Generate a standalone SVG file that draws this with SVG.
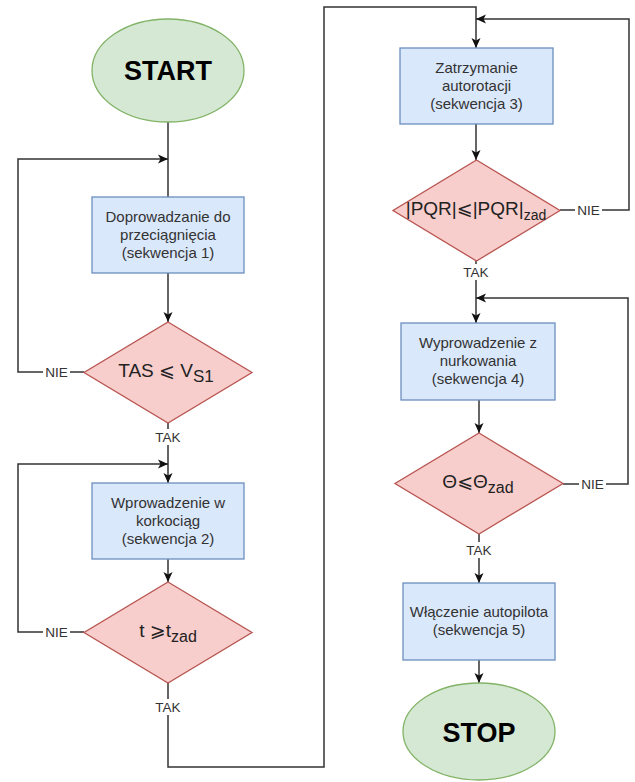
<svg xmlns="http://www.w3.org/2000/svg" width="635" height="782" viewBox="0 0 635 782">
<defs>
<style>
.term{fill:#d5e8d4;stroke:#82b366;stroke-width:1.3}
.proc{fill:#dae8fc;stroke:#6c8ebf;stroke-width:1.3}
.dec{fill:#f8cecc;stroke:#b85450;stroke-width:1.3}
.t{font-family:"Liberation Sans",Arial,"DejaVu Sans",sans-serif;text-anchor:middle}
.big{font-size:27px;font-weight:bold;fill:#000}
.box{font-size:15px;fill:#333}
.cond{font-size:19px;fill:#222}
.lbl{font-size:13.5px;fill:#333}
.edge{fill:none;stroke:#333;stroke-width:1.5}
.bg{fill:#fff}
</style>
<marker id="arr" markerUnits="userSpaceOnUse" markerWidth="12" markerHeight="12" viewBox="0 0 12 12" refX="11" refY="6" orient="auto">
<path d="M1,1.5 L11,6 L1,10.5 L3.5,6 Z" fill="#111"/>
</marker>
</defs>
<g id="connectors">
<path class="edge" d="M168,122 L168,197"/>
<path class="edge" d="M168,273 L168,322" marker-end="url(#arr)"/>
<path class="edge" d="M84,372 L18,372 L18,159 L168,159" marker-end="url(#arr)"/>
<path class="edge" d="M168,423 L168,483" marker-end="url(#arr)"/>
<path class="edge" d="M168,559 L168,582" marker-end="url(#arr)"/>
<path class="edge" d="M84,632 L18,632 L18,464 L168,464" marker-end="url(#arr)"/>
<path class="edge" d="M168,683 L168,767 L324,767 L324,7 L476,7 L476,48" marker-end="url(#arr)"/>
<path class="edge" d="M476,124 L476,160" marker-end="url(#arr)"/>
<path class="edge" d="M560,210 L629,210 L629,19 L476,19" marker-end="url(#arr)"/>
<path class="edge" d="M476,261 L476,323" marker-end="url(#arr)"/>
<path class="edge" d="M479,400 L479,433" marker-end="url(#arr)"/>
<path class="edge" d="M563,484 L628,484 L628,298 L476,298" marker-end="url(#arr)"/>
<path class="edge" d="M479,534 L479,583" marker-end="url(#arr)"/>
<path class="edge" d="M479,660 L479,683" marker-end="url(#arr)"/>
<rect class="bg" x="43" y="364" width="27" height="16"/>
<text class="t lbl" x="56.5" y="377">NIE</text>
<rect class="bg" x="154" y="429" width="28" height="16"/>
<text class="t lbl" x="168" y="442">TAK</text>
<rect class="bg" x="43" y="624" width="27" height="16"/>
<text class="t lbl" x="56.5" y="637">NIE</text>
<rect class="bg" x="154" y="699" width="28" height="16"/>
<text class="t lbl" x="168" y="712">TAK</text>
<rect class="bg" x="575" y="202" width="27" height="16"/>
<text class="t lbl" x="588.5" y="215">NIE</text>
<rect class="bg" x="462" y="264" width="28" height="16"/>
<text class="t lbl" x="476" y="277">TAK</text>
<rect class="bg" x="579" y="476" width="27" height="16"/>
<text class="t lbl" x="592.5" y="489">NIE</text>
<rect class="bg" x="465" y="542" width="28" height="16"/>
<text class="t lbl" x="479" y="555">TAK</text>
</g>
<g id="start">
<ellipse class="term" cx="168" cy="70.5" rx="76" ry="51.5"/>
<text class="t big" x="168" y="79.5">START</text>
</g>
<g id="seq1">
<rect class="proc" x="92" y="197" width="152" height="76"/>
<text class="t box" x="168" y="222">Doprowadzanie do</text>
<text class="t box" x="168" y="240">przeciągnięcia</text>
<text class="t box" x="168" y="258">(sekwencja 1)</text>
</g>
<g id="cond1">
<polygon class="dec" points="168,322 252,372.5 168,423 84,372.5"/>
<text class="t cond" x="166" y="377">TAS ⩽ V<tspan font-size="17" dy="5">S1</tspan></text>
</g>
<g id="seq2">
<rect class="proc" x="92" y="483" width="152" height="76"/>
<text class="t box" x="168" y="508">Wprowadzenie w</text>
<text class="t box" x="168" y="526">korkociąg</text>
<text class="t box" x="168" y="544">(sekwencja 2)</text>
</g>
<g id="cond2">
<polygon class="dec" points="168,582 252,632.5 168,683 84,632.5"/>
<text class="t cond" x="168" y="637">t ⩾t<tspan font-size="16" dy="5">zad</tspan></text>
</g>
<g id="seq3">
<rect class="proc" x="400" y="48" width="153" height="76"/>
<text class="t box" x="476.5" y="73">Zatrzymanie</text>
<text class="t box" x="476.5" y="91">autorotacji</text>
<text class="t box" x="476.5" y="109">(sekwencja 3)</text>
</g>
<g id="cond3">
<polygon class="dec" points="476.5,160 560,210.5 476.5,261 393,210.5"/>
<text class="t cond" x="476" y="215" font-size="17">|PQR|⩽|PQR|<tspan font-size="14" dy="5">zad</tspan></text>
</g>
<g id="seq4">
<rect class="proc" x="401" y="323" width="154" height="77"/>
<text class="t box" x="478" y="348">Wyprowadzenie z</text>
<text class="t box" x="478" y="366">nurkowania</text>
<text class="t box" x="478" y="384">(sekwencja 4)</text>
</g>
<g id="cond4">
<polygon class="dec" points="479,433 563,483.5 479,534 395,483.5"/>
<text class="t cond" x="478" y="488">Θ⩽Θ<tspan font-size="16" dy="5">zad</tspan></text>
</g>
<g id="seq5">
<rect class="proc" x="403" y="583" width="152" height="77"/>
<text class="t box" x="479" y="617">Włączenie autopilota</text>
<text class="t box" x="479" y="635">(sekwencja 5)</text>
</g>
<g id="stop">
<ellipse class="term" cx="479" cy="731.5" rx="76" ry="48.5"/>
<text class="t big" x="479" y="742">STOP</text>
</g>
</svg>
